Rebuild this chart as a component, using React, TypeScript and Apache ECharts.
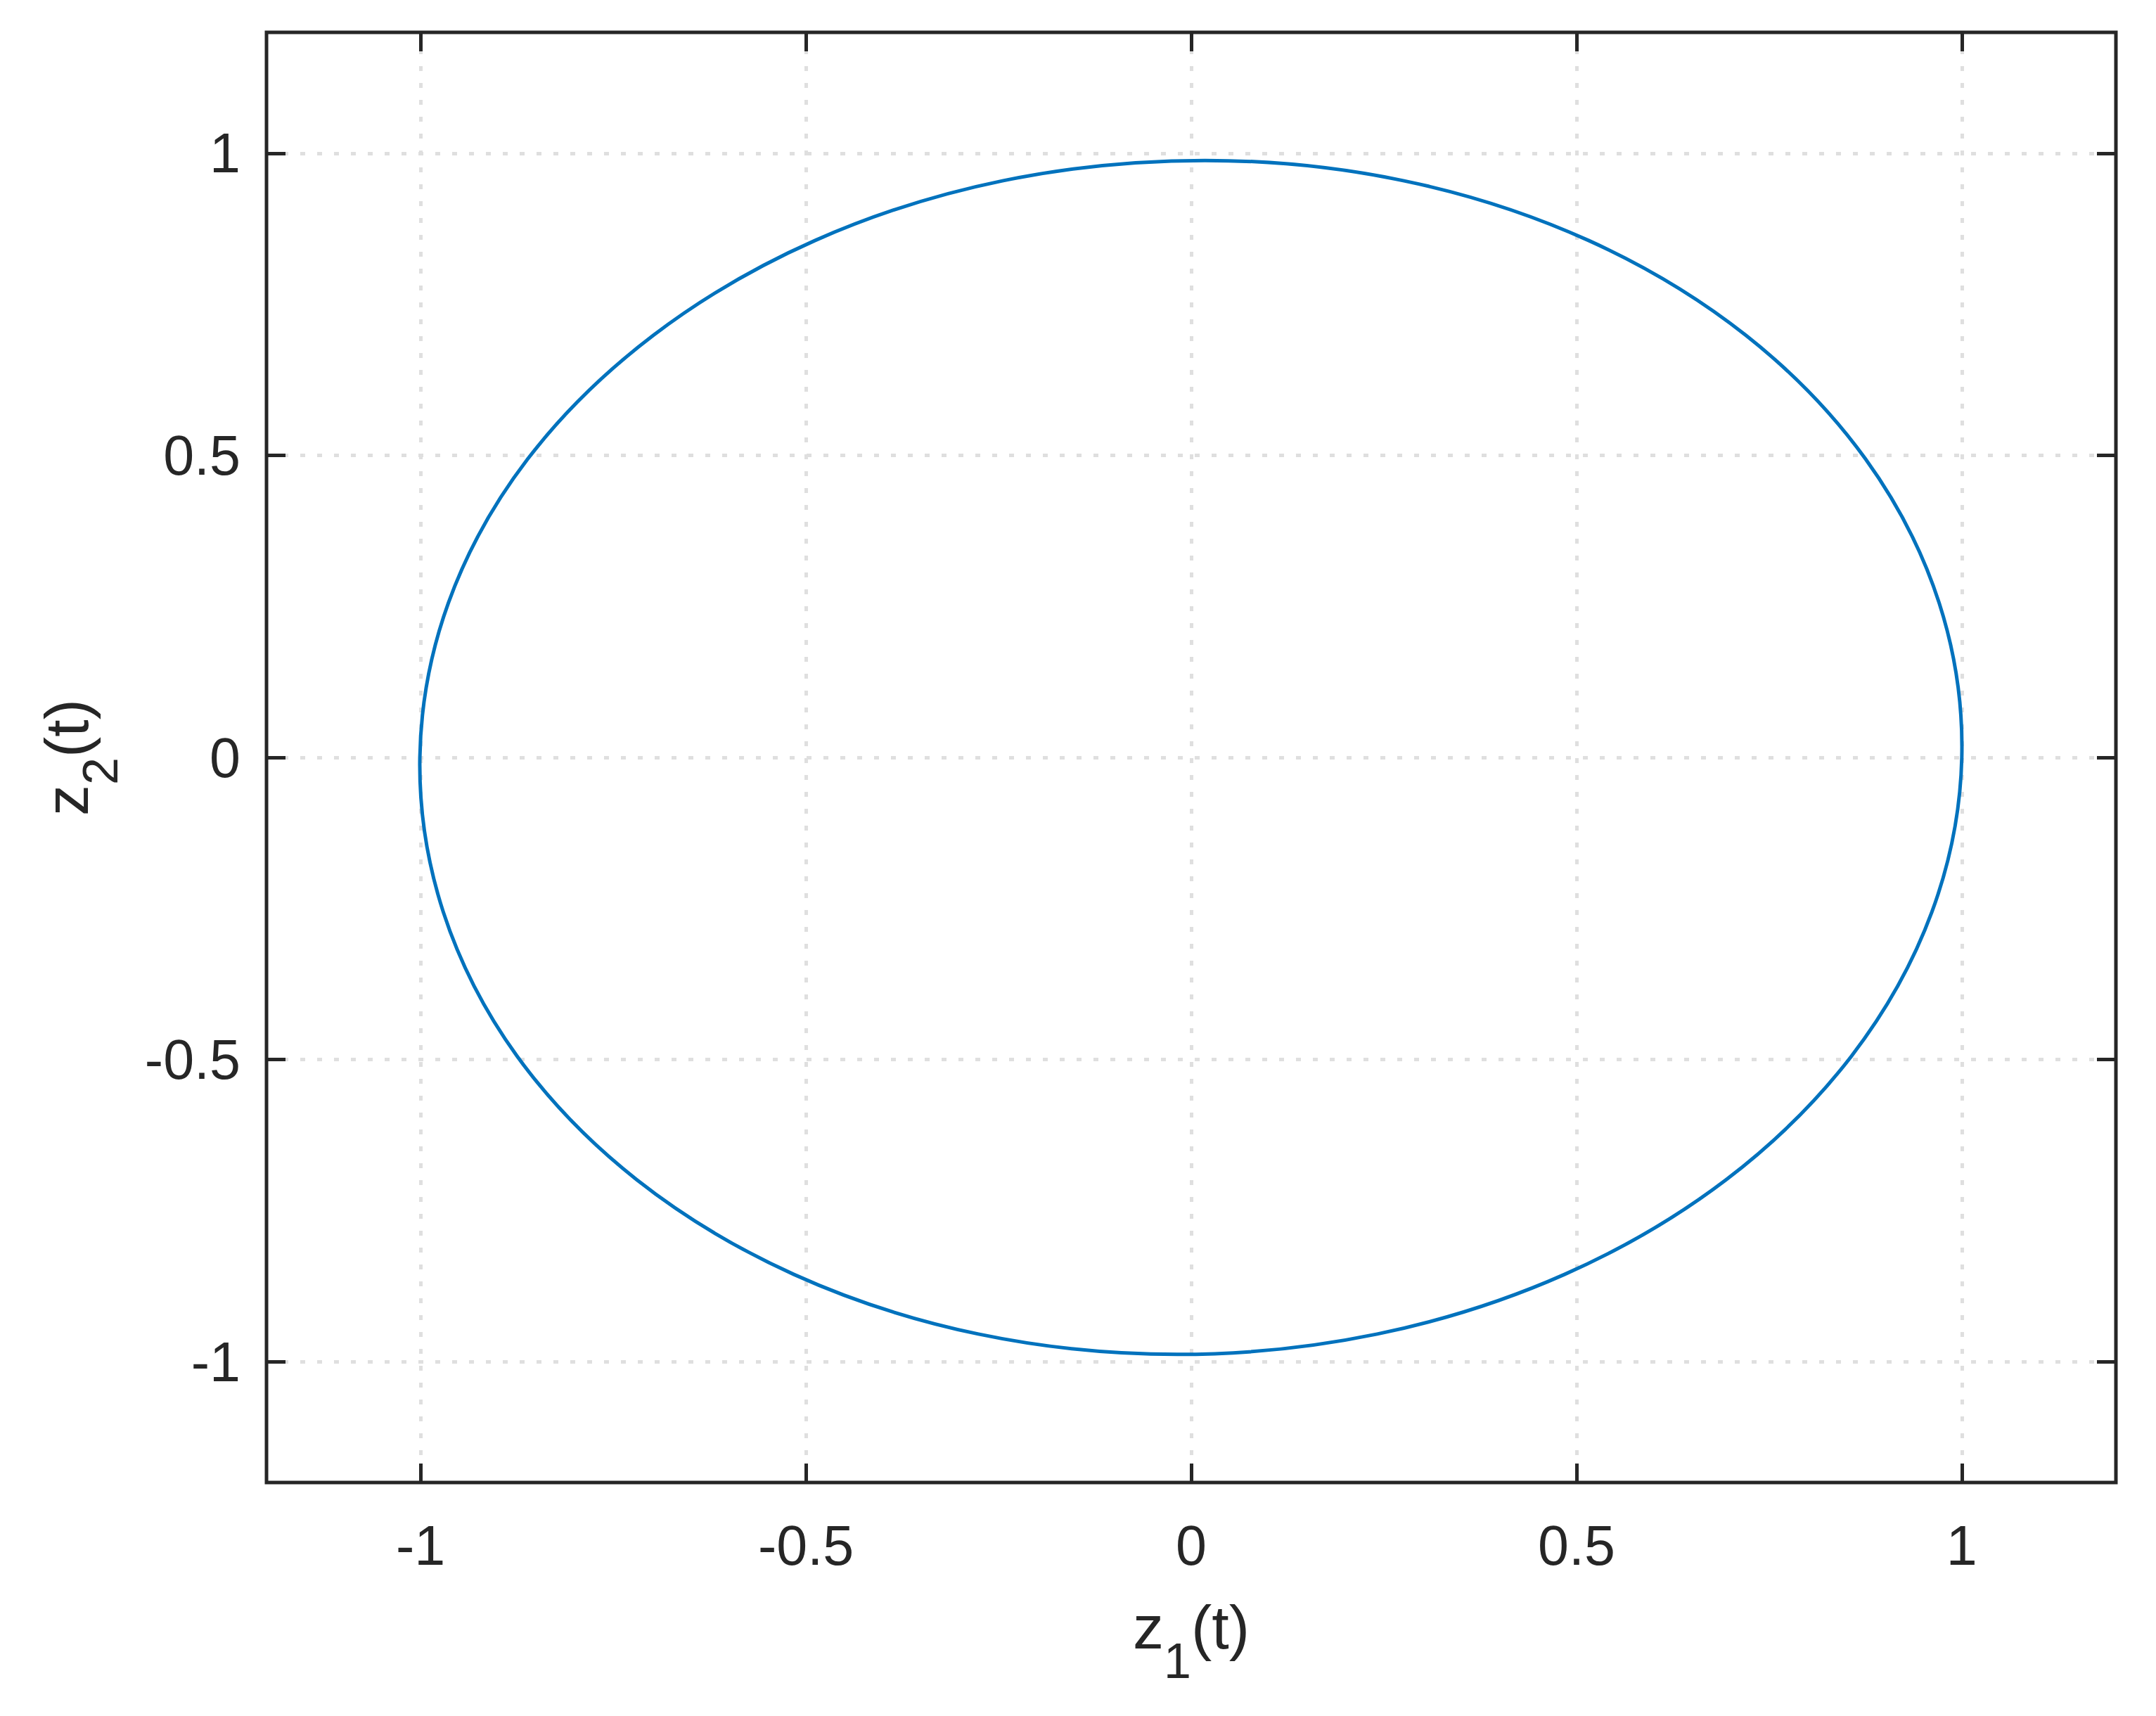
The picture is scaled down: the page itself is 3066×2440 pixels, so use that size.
import React, { useEffect, useRef } from "react";
import * as echarts from "echarts";

// Closed trajectory (one lap, counter-clockwise from the right end)
const z1 = [
  1.0, 0.9706, 0.875, 0.7198, 0.5156, 0.2762, 0.018, -0.245, -0.488, -0.698,
  -0.861, -0.964, -1.001, -0.9706, -0.875, -0.7198, -0.5156, -0.2762, -0.018, 0.2414,
  0.4844, 0.6944, 0.857, 0.9612,
];
const z2 = [
  0.0, 0.2557, 0.494, 0.6986, 0.8556, 0.9543, 0.988, 0.9543, 0.8556, 0.6986,
  0.494, 0.2557, 0.0, -0.2557, -0.494, -0.6986, -0.8556, -0.9543, -0.988, -0.9543,
  -0.8556, -0.6986, -0.494, -0.2557,
];

const xTicks = [-1, -0.5, 0, 0.5, 1];
const yTicks = [-1, -0.5, 0, 0.5, 1];
const axisMin = -1.2;
const axisMax = 1.2;

const FONT = "'Liberation Sans', Arial, Helvetica, sans-serif";
const INK = "#262626";
const LINE_BLUE = "#0072BD";
const GRID_GRAY = "#dfdfdf";

function makeAxis(kind: "x" | "y", position: string, ticks: number[], primary: boolean, name?: string) {
  const rich = {
    m: { fontSize: 88, fontFamily: FONT, color: INK, verticalAlign: "middle" },
    s: { fontSize: 70, fontFamily: FONT, color: INK, verticalAlign: "middle", padding: [98, 0, 0, 0] },
  };
  return {
    type: "value",
    position,
    min: axisMin,
    max: axisMax,
    name: primary ? name : undefined,
    nameLocation: "middle",
    nameGap: kind === "x" ? 121 : 201,
    nameTextStyle: { rich, fontFamily: FONT, color: INK },
    axisLine: { show: false, onZero: false },
    axisTick: {
      show: true,
      inside: true,
      length: 27,
      customValues: ticks,
      lineStyle: { color: INK, width: 5 },
    },
    axisLabel: {
      show: primary,
      customValues: ticks,
      margin: kind === "x" ? 50 : 37,
      fontSize: 79,
      fontFamily: FONT,
      color: INK,
    },
    splitLine: {
      show: primary,
      lineStyle: { color: GRID_GRAY, width: 5, type: [7, 17] },
    },
  };
}

export default function App() {
  const ref = useRef<HTMLDivElement>(null);

  useEffect(() => {
    if (!ref.current) return;
    const chart = echarts.init(ref.current, undefined, { renderer: "svg" });
    const points = z1.map((x, i) => [x, z2[i]]);
    chart.setOption({
      animation: false,
      backgroundColor: "#ffffff",
      textStyle: { fontFamily: FONT },
      grid: {
        left: 379,
        top: 46,
        width: 2630,
        height: 2062,
        show: true,
        borderColor: INK,
        borderWidth: 5,
        backgroundColor: "transparent",
        containLabel: false,
        outerBoundsMode: "none",
      },
      xAxis: [
        makeAxis("x", "bottom", xTicks, true, "{m|z}{s|1}{m|(t)}"),
        makeAxis("x", "top", xTicks, false),
      ],
      yAxis: [
        makeAxis("y", "left", yTicks, true, "{m|z}{s|2}{m|(t)}"),
        makeAxis("y", "right", yTicks, false),
      ],
      series: [
        {
          type: "custom",
          coordinateSystem: "cartesian2d",
          xAxisIndex: 0,
          yAxisIndex: 0,
          data: points,
          encode: { x: 0, y: 1 },
          clip: false,
          z: 5,
          renderItem: (params: any, api: any) => {
            if (params.dataIndex !== 0) return null;
            const pts = points.map((p) => api.coord(p));
            return {
              type: "polygon",
              silent: true,
              shape: { points: pts, smooth: 0.34 },
              style: { fill: "none", stroke: LINE_BLUE, lineWidth: 5 },
            };
          },
        },
      ],
    });
    return () => chart.dispose();
  }, []);

  return (
    <div
      ref={ref}
      style={{ position: "absolute", left: 0, top: 0, width: 3066, height: 2440, background: "#fff" }}
    />
  );
}
